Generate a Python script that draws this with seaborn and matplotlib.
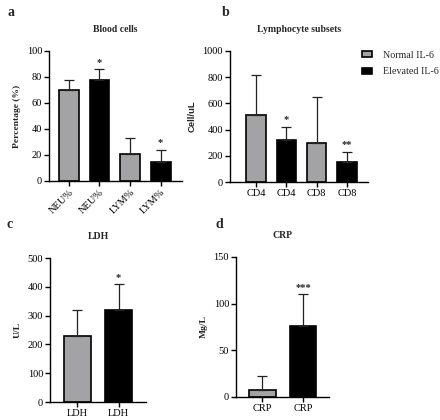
import numpy as np
import pandas as pd
import matplotlib
matplotlib.use("Agg")
import matplotlib.pyplot as plt
from matplotlib.patches import Patch
import seaborn as sns

# data
groups = ["Normal IL-6", "Elevated IL-6"]

blood_labels = ["NEU%", "NEU%", "LYM%", "LYM%"]
blood_mean = [70, 78, 21, 14.5]
blood_err = [8, 8, 12, 9.5]
blood_star = ["", "*", "", "*"]

lymph_labels = ["CD4", "CD4", "CD8", "CD8"]
lymph_mean = [510, 320, 300, 150]
lymph_err = [305, 100, 350, 80]
lymph_star = ["", "*", "", "**"]

ldh_labels = ["LDH", "LDH"]
ldh_mean = [228, 318]
ldh_err = [90, 90]
ldh_star = ["", "*"]

crp_labels = ["CRP", "CRP"]
crp_mean = [8, 76]
crp_err = [14, 34]
crp_star = ["", "***"]

sns.set_style("ticks")
plt.rcParams["font.family"] = ["Liberation Serif", "DejaVu Serif"]
plt.rcParams["font.size"] = 7
plt.rcParams["axes.linewidth"] = 1.0

gray = "#a3a3a7"
colors = {"Normal IL-6": gray, "Elevated IL-6": "black"}

fig = plt.figure(figsize=(4.4, 4.2), dpi=100)
W, H = 440, 420


def add_ax(x0, x1, ytop, ybot):
    return fig.add_axes([x0 / W, (H - ybot) / H, (x1 - x0) / W, (ybot - ytop) / H])


def panel(ax, labels, mean, err, stars, title, ylabel, ymax, step, xlim, rot=0, ylabel_font=None):
    n = len(labels)
    df = pd.DataFrame({
        "pos": [str(i) for i in range(n)],
        "value": mean,
        "group": [groups[i % 2] for i in range(n)],
    })
    sns.barplot(data=df, x="pos", y="value", hue="group", palette=colors,
                dodge=False, width=0.65, edgecolor="black", linewidth=1.2,
                legend=False, ax=ax)
    x = np.arange(n)
    ax.errorbar(x, mean, yerr=[np.zeros(n), err], fmt="none", ecolor="#222222",
                elinewidth=0.9, capsize=3.8, capthick=0.9, zorder=1)
    for xi, m, e, s in zip(x, mean, err, stars):
        if s:
            ax.text(xi, m + e + ymax * 0.02, s, ha="center", va="bottom", fontsize=7.5,
                    fontweight="bold")
    ax.set_ylim(0, ymax)
    ax.set_yticks(np.arange(0, ymax + 1, step))
    ax.set_xlim(*xlim)
    ax.set_xticks(x)
    if rot:
        ax.set_xticklabels(labels, rotation=rot, ha="right", rotation_mode="anchor")
    else:
        ax.set_xticklabels(labels)
    ax.set_xlabel("")
    kw = dict(fontsize=6.8, fontweight="bold")
    if ylabel_font:
        kw["family"] = ylabel_font
    ax.set_ylabel(ylabel, labelpad=4, **kw)
    ax.set_title(title, fontsize=7, fontweight="bold", pad=14)
    ax.tick_params(axis="both", labelsize=7.5, length=3.5, width=1.0, pad=1.5, colors="black")
    sns.despine(ax=ax)
    for sp in ax.spines.values():
        sp.set_color("black")


ax_a = add_ax(49, 182, 51, 181)
panel(ax_a, blood_labels, blood_mean, blood_err, blood_star, "Blood cells",
      "Percentage (%)", 100, 20, (-0.65, 3.7), rot=45)

ax_b = add_ax(230, 368, 51, 182)
panel(ax_b, lymph_labels, lymph_mean, lymph_err, lymph_star, "Lymphocyte subsets",
      "Cell/uL", 1000, 200, (-0.87, 3.7), ylabel_font=["Liberation Sans", "DejaVu Sans"])

ax_c = add_ax(50, 146, 258, 402)
panel(ax_c, ldh_labels, ldh_mean, ldh_err, ldh_star, "LDH", "U/L", 500, 100, (-0.67, 1.67))

ax_d = add_ax(236, 329, 257, 397)
panel(ax_d, crp_labels, crp_mean, crp_err, crp_star, "CRP", "Mg/L", 150, 50, (-0.65, 1.64))

handles = [Patch(facecolor=colors[g], edgecolor="black", linewidth=1.2, label=g) for g in groups]
ax_b.legend(handles=handles, loc="upper left", bbox_to_anchor=(0.955, 1.0), frameon=False,
            fontsize=7.2, handlelength=1.0, handleheight=0.55, labelspacing=0.75,
            handletextpad=1.1, borderaxespad=0, borderpad=0)

for letter, px, py in [("a", 8, 13), ("b", 222, 13), ("c", 6, 225), ("d", 215, 225)]:
    fig.text(px / W, 1 - py / H, letter, fontsize=10, fontweight="bold", ha="left", va="center")

fig.savefig("out.png", dpi=100)
